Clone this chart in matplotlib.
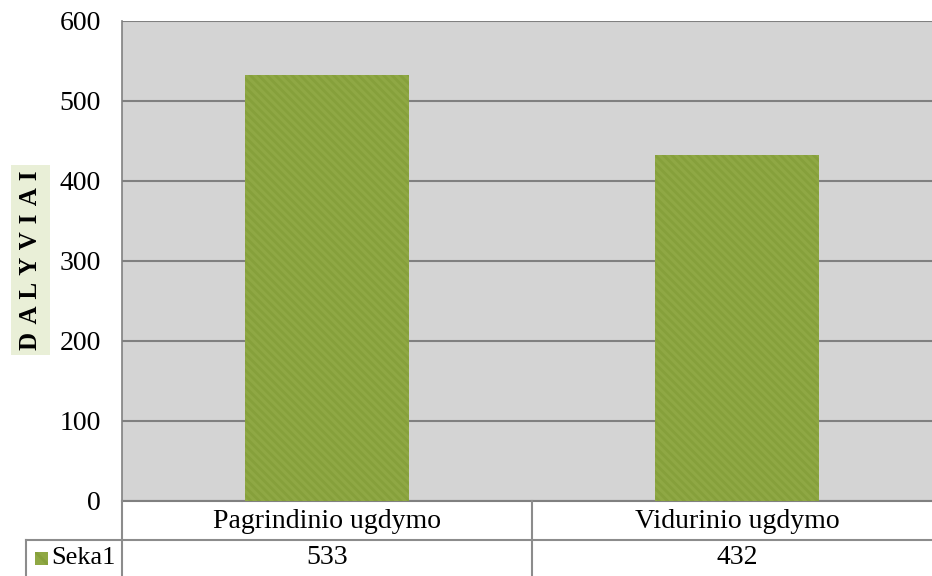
import matplotlib.pyplot as plt
from matplotlib.lines import Line2D
from matplotlib.patches import Rectangle
import matplotlib.transforms as mtransforms

# Data
categories = ["Pagrindinio ugdymo", "Vidurinio ugdymo"]
values = [533, 432]
series_name = "Seka1"
y_ticks = [0, 100, 200, 300, 400, 500, 600]
y_title = "DALYVIAI"

plt.rcParams['font.family'] = ['Liberation Serif', 'DejaVu Serif']
plt.rcParams['hatch.linewidth'] = 2.0

W, H = 932, 576
fig = plt.figure(figsize=(W / 100, H / 100), dpi=100)

# axes in pixel coords: left 122, top 21, bottom 501, right beyond the figure (942)
left, top, bottom, right = 122, 21, 501, 942
ax = fig.add_axes([left / W, (H - bottom) / H, (right - left) / W, (bottom - top) / H])
ax.set_facecolor('#d4d4d4')

x = list(range(len(categories)))
ax.bar(x, values, width=0.4, color='#8fa844', edgecolor='#86a03b',
       linewidth=0, hatch='\\\\\\\\', zorder=3)

ax.set_xlim(-0.5, len(categories) - 0.5)
ax.set_ylim(0, 600)
ax.set_yticks(y_ticks)
ax.set_yticklabels([str(t) for t in y_ticks], fontsize=20)
ax.tick_params(axis='y', length=0, pad=15)
ax.set_xticks([])
ax.grid(axis='y', color='#808080', linewidth=1.5, zorder=1)
ax.set_axisbelow(True)
for s in ['top', 'right']:
    ax.spines[s].set_visible(False)
ax.spines['left'].set_color('#808080')
ax.spines['left'].set_linewidth(1.2)
ax.spines['bottom'].set_color('#808080')
ax.spines['bottom'].set_linewidth(1.5)

# y title: light green box with spaced bold letters
fig.add_artist(Rectangle((11 / W, (H - 355) / H), 39 / W, 190 / H,
                         transform=fig.transFigure, facecolor='#e9efd7',
                         edgecolor='none'))
fig.text(31 / W, (H - 260) / H, " \u200a".join(y_title), rotation=90, fontsize=18,
         fontweight='bold', ha='center', va='center')

# data table below the axes
line_kw = dict(color='#8c8c8c', linewidth=1.5)

def pix_line(x0, y0, x1, y1):
    fig.add_artist(Line2D([x0 / W, x1 / W], [(H - y0) / H, (H - y1) / H],
                          transform=fig.transFigure, **line_kw))

pix_line(26, 540, W, 540)
pix_line(26, 540, 26, H)
pix_line(122, 501, 122, H)
for i in range(1, len(categories)):
    xp = left + (right - left) * i / len(categories)
    pix_line(xp, 501, xp, H)

trans = mtransforms.blended_transform_factory(ax.transData, fig.transFigure)
for i, (c, v) in enumerate(zip(categories, values)):
    ax.text(i, (H - 521) / H, c, transform=trans, fontsize=20,
            ha='center', va='center', clip_on=False)
    ax.text(i, (H - 558) / H, str(v), transform=trans, fontsize=20,
            ha='center', va='center', clip_on=False)

# legend key in the table
fig.add_artist(Rectangle((35 / W, (H - 565) / H), 13 / W, 13 / H,
                         transform=fig.transFigure, facecolor='#8fa844',
                         edgecolor='#86a03b', linewidth=0, hatch='\\\\'))
fig.text(51 / W, (H - 558) / H, series_name, fontsize=19, ha='left', va='center')

fig.savefig('out.png', dpi=100)
